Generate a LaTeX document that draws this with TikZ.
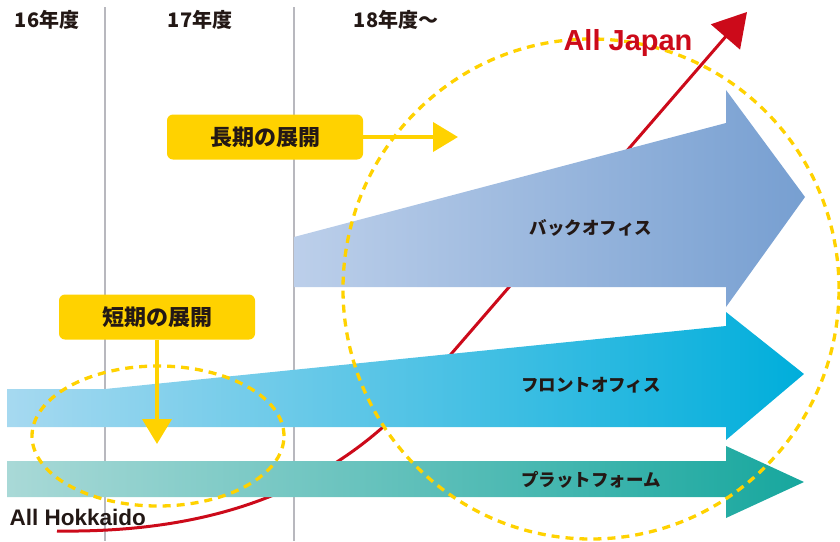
\documentclass[tikz,border=0pt]{standalone}
\usepackage{fontspec}
\setmainfont{Liberation Sans}
\newfontfamily\jp{Noto Sans CJK JP}
\usetikzlibrary{arrows.meta}
\definecolor{ygold}{HTML}{FFD200}
\definecolor{jred}{HTML}{CC0A1A}
\definecolor{ink}{HTML}{231815}
\definecolor{gline}{HTML}{B8B8BE}
\definecolor{boL}{HTML}{BCCFEA}
\definecolor{boR}{HTML}{779FD1}
\definecolor{foL}{HTML}{A6D9F0}
\definecolor{foR}{HTML}{00AEDB}
\definecolor{pfL}{HTML}{A9D9D7}
\definecolor{pfR}{HTML}{17A79E}
\tikzset{
  vline/.style={draw=gline, line width=1.6pt},
  ybox/.style={fill=ygold, rounded corners=6pt, minimum width=196pt, minimum height=45pt, inner sep=0pt, font=\jp\bfseries\fontsize{22}{26}\selectfont, text=ink},
  yarrow/.style={draw=ygold, line width=4pt, -{Triangle[length=25pt,width=29pt]}},
  ydash/.style={draw=ygold, line width=3.3pt, dash pattern=on 8pt off 6pt},
  barlabel/.style={font=\jp\bfseries\fontsize{17.5}{20}\selectfont, text=ink},
  yearlabel/.style={font=\jp\bfseries\fontsize{20}{24}\selectfont, text=ink, anchor=center},
}
\begin{document}
\begin{tikzpicture}[x=1pt,y=-1pt]
\useasboundingbox (0,0) rectangle (840,541);
% year grid lines
\coordinate (l1t) at (105,7); \coordinate (l1b) at (105,541);
\coordinate (l2t) at (294,7); \coordinate (l2b) at (294,541);
\draw[vline] (l1t) -- (l1b);
\draw[vline] (l2t) -- (l2b);
\node[yearlabel] (y16) at (47,20) {16年度};
\node[yearlabel] (y17) at (200,20) {17年度};
\node[yearlabel] (y18) at (396,20) {18年度〜};
% red growth line
\coordinate (rs) at (57,531);
\coordinate (rm) at (420,390);
\coordinate (re) at (747,12);
\draw[draw=jred, line width=3pt, -{Triangle[length=33pt,width=38pt]}]
  (rs) .. controls (210,533) and (330,492) .. (rm) -- (re);
% bars
\shade[left color=boL, right color=boR]
  (294,237) -- (726,123) -- (726,90) -- (805,197) -- (726,307) -- (726,287) -- (294,287) -- cycle;
\shade[left color=foL, right color=foR]
  (7,389) -- (105,389) -- (726,326) -- (726,312) -- (804,374) -- (726,440) -- (726,427) -- (7,427) -- cycle;
\shade[left color=pfL, right color=pfR]
  (7,461) -- (726,461) -- (726,446) -- (804,482) -- (726,518) -- (726,497) -- (7,497) -- cycle;
\node[barlabel] (bo) at (591,228) {バックオフィス};
\node[barlabel] (fo) at (591,385) {フロントオフィス};
\node[barlabel] (pf) at (591,480) {プラットフォーム};
% dashed circles
\draw[ydash] (591,289) ellipse [x radius=248pt, y radius=250pt];
\draw[ydash] (158,436) ellipse [x radius=126pt, y radius=70pt];
% labels
\node[font=\bfseries\fontsize{29}{32}\selectfont, text=jred] (aj) at (628,43) {All Japan};
\node[font=\bfseries\fontsize{22.5}{26}\selectfont, text=ink, anchor=west] (ah) at (6,517) {All Hokkaido};
% yellow boxes and arrows
\node[ybox] (long) at (265,137) {長期の展開};
\coordinate (longend) at (458,137);
\draw[yarrow] (long.east) -- (longend);
\node[ybox] (short) at (157,317) {短期の展開};
\coordinate (shortend) at (157,444);
\draw[yarrow] (short.south) -- (shortend);
\end{tikzpicture}
\end{document}
